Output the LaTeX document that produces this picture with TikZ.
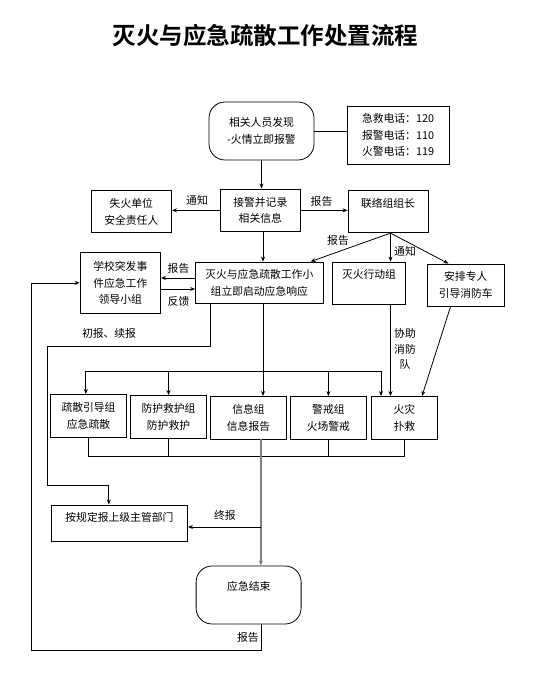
\documentclass[tikz,border=0pt]{standalone}
\usepackage{fontspec}
\setmainfont{Noto Sans CJK SC}
\newfontfamily\titlefont{Noto Sans CJK SC Bold}
\usetikzlibrary{arrows.meta}
\begin{document}
\begin{tikzpicture}[x=1pt,y=-1pt,line width=0.8pt,
  every node/.style={font=\fontsize{10.8}{16.8}\selectfont},
  box/.style={draw,inner sep=0pt,align=center},
  term/.style={draw,rectangle,rounded corners=16pt,inner sep=0pt,align=center,minimum width=105pt,minimum height=58pt},
  txt/.style={inner sep=0pt,align=center},
  arr/.style={-{Stealth[length=5pt,width=4pt]}},
  grayline/.style={draw=black!50,line width=1.5pt}]
\useasboundingbox (0,0) rectangle (538,676);
% title
\node[inner sep=0pt,font=\titlefont\fontsize{23.5}{24}\selectfont] (title) at (265.5,36) {灭火与应急疏散工作处置流程};
% nodes
\node[term] (start) at (261.5,131) {相关人员发现\\-火情立即报警};
\node[box,minimum width=102pt,minimum height=58pt] (phone) at (398,135) {急救电话：120\\报警电话：110\\火警电话：119};
\node[box,minimum width=80.6pt,minimum height=42.7pt] (jj) at (260.3,210.3) {接警并记录\\相关信息};
\node[box,minimum width=80.6pt,minimum height=42.2pt] (sh) at (131.3,211.6) {失火单位\\安全责任人};
\node[box,minimum width=80pt,minimum height=42.2pt] (ll) at (388,211.6) {};
\node[txt] (llt) at (388,203) {联络组组长};
\node[box,minimum width=80.6pt,minimum height=61.7pt] (xx) at (120.3,282.9) {学校突发事\\件应急工作\\领导小组};
\node[box,minimum width=127.4pt,minimum height=41.4pt] (mh) at (259.3,282.7) {灭火与应急疏散工作小\\组立即启动应急响应};
\node[box,minimum width=72.5pt,minimum height=42pt] (xd) at (368.75,283) {};
\node[txt] (xdt) at (369,274.6) {灭火行动组};
\node[box,minimum width=77.5pt,minimum height=42pt] (ap) at (465.75,285) {安排专人\\引导消防车};
\node[box,minimum width=76.2pt,minimum height=42.6pt] (b1) at (88.5,415.7) {疏散引导组\\应急疏散};
\node[box,minimum width=76.2pt,minimum height=42.9pt] (b2) at (168.5,416.9) {防护救护组\\防护救护};
\node[box,minimum width=76.1pt,minimum height=42.5pt] (b3) at (248.5,417.7) {信息组\\信息报告};
\node[box,minimum width=76.2pt,minimum height=42.5pt] (b4) at (328.4,417.7) {警戒组\\火场警戒};
\node[box,minimum width=66.2pt,minimum height=42.5pt] (b5) at (404.4,417.7) {火灾\\扑救};
\node[box,minimum width=136pt,minimum height=36.7pt] (gd) at (119.5,523.3) {};
\node[txt] (gdt) at (119.4,517.3) {按规定报上级主管部门};
\node[term] (end) at (248.6,595) {};
\node[txt] (endt) at (248.8,586.6) {应急结束};
% labels
\node[txt] (l1) at (197,200) {通知};
\node[txt] (l2) at (321.5,201) {报告};
\node[txt] (l3) at (338,240) {报告};
\node[txt] (l4) at (405,251) {通知};
\node[txt] (l5) at (178.5,268.4) {报告};
\node[txt] (l6) at (178.5,301) {反馈};
\node[txt] (l7) at (109,333.6) {初报、续报};
\node[txt,font=\fontsize{10.8}{15.8}\selectfont] (l8) at (405,349) {协助\\消防\\队};
\node[txt] (l9) at (224.8,515) {终报};
\node[txt] (l10) at (247.8,637) {报告};
% coordinates
\coordinate (L) at ([xshift=2.5pt]ll.south);
\coordinate (lp) at (31.6,650);
\coordinate (c1) at (47,346.7);
\coordinate (c2) at (108.8,485.7);
\coordinate (bl) at (85.8,371.4);
\coordinate (br) at (381,371.4);
\coordinate (bb) at (0,456);
\coordinate (zb) at (260.8,527);
% connectors
\draw[arr] (start.south) -- (start.south |- jj.north);
\draw (start.east) -- (start.east -| phone.west);
\draw[arr] (jj.west) -- (jj.west -| sh.east);
\draw[arr] (jj.east) -- (jj.east -| ll.west);
\draw[arr] (L) -- ([xshift=51.3pt]mh.north);
\draw[arr] (L) -- (L |- xd.north);
\draw[arr] (L) -- ([xshift=-17.25pt]ap.north);
\draw[arr] ([xshift=2.7pt]jj.south) -- ([xshift=2.7pt]jj.south |- mh.north);
\draw[arr] ([yshift=4.7pt]mh.west) -- ([yshift=4.7pt]mh.west -| xx.east);
\draw[arr] ([yshift=-6.3pt]mh.west -| xx.east) -- ([yshift=-6.3pt]mh.west);
\draw[arr] ([xshift=12.9pt]end.south) |- (lp) |- (xx.west);
\draw[arr] ([xshift=-48.9pt]mh.south) |- (c1) |- (c2) -- (c2 |- gd.north);
\draw[arr] ([xshift=3.7pt]mh.south) -- ([xshift=3.7pt]mh.south |- b3.north);
\draw (bl) -- (br);
\draw[arr] (bl) -- (bl |- b1.north);
\draw[arr] (bl -| b2.north) -- (b2.north);
\draw[arr] (bl -| b4.north) -- (b4.north);
\draw[arr] (br) -- (br |- b5.north);
\draw[arr] (L |- xd.south) -- (L |- b5.north);
\draw[arr] ([xshift=-15.15pt]ap.south) -- ([xshift=17.6pt]b5.north);
\draw (b1.south) -- (b1.south |- bb) -- (b5.south |- bb) -- (b5.south);
\draw (b2.south) -- (b2.south |- bb);
\draw (b4.south) -- (b4.south |- bb);
\draw[arr,grayline] ([xshift=12.3pt]b3.south) -- ([xshift=12.3pt]b3.south |- end.north);
\draw[arr] (zb) -- (zb -| gd.east);
\end{tikzpicture}
\end{document}
